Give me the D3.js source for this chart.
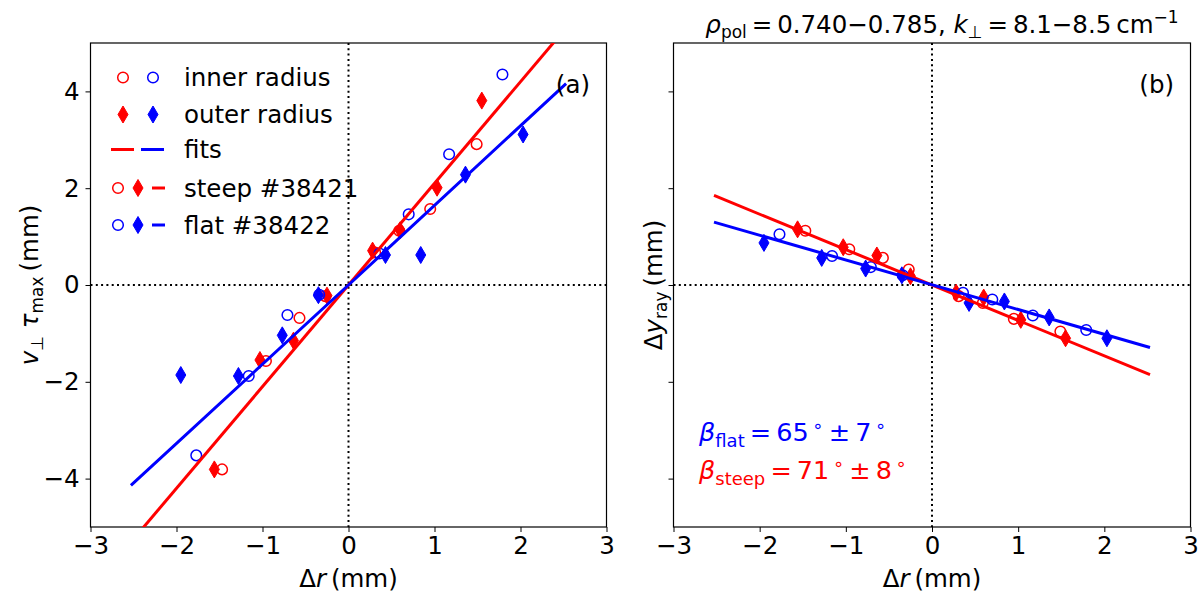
<!DOCTYPE html>
<html><head><meta charset="utf-8">
<script src="https://cdn.jsdelivr.net/npm/d3@7"></script>
<style>body{margin:0;background:#fff}svg{display:block;font-family:"DejaVu Sans",sans-serif}</style>
</head><body><svg id="c" width="1204" height="597"></svg>
<script>
// ---- data ----
const xTicks = [-3,-2,-1,0,1,2,3];
const yTicks = [-4,-2,0,2,4];
// steep #38421 (red)
const steepInnerX = [-1.47,-0.96,-0.57,-0.27,0.31,0.59,0.95,1.49];
const steepInnerA = [-3.81,-1.57,-0.68,-0.23,0.67,1.12,1.57,2.91];
const steepInnerB = [1.12,0.74,0.56,0.32,-0.23,-0.37,-0.70,-0.96];
const steepOuterX = [-1.56,-1.03,-0.64,-0.25,0.28,0.60,1.03,1.55];
const steepOuterA = [-3.81,-1.55,-1.15,-0.22,0.71,1.13,2.01,3.81];
const steepOuterB = [1.15,0.78,0.61,0.18,-0.16,-0.26,-0.72,-1.10];
// flat #38422 (blue)
const flatInnerX = [-1.77,-1.16,-0.71,-0.34,0.36,0.70,1.17,1.79];
const flatInnerA = [-3.52,-1.88,-0.62,-0.20,0.65,1.46,2.70,4.35];
const flatInnerB = [1.05,0.60,0.37,0.20,-0.16,-0.30,-0.63,-0.93];
const flatOuterX = [-1.95,-1.28,-0.77,-0.35,0.43,0.84,1.36,2.03];
const flatOuterA = [-1.86,-1.88,-1.04,-0.21,0.62,0.62,2.28,3.11];
const flatOuterB = [0.87,0.56,0.34,0.20,-0.37,-0.34,-0.67,-1.10];
// fits
const fitSteepAX = [-2.5,2.5], fitSteepAY = [-5.25,5.25];
const fitFlatAX = [-2.53,0,2.53], fitFlatAY = [-4.14,0,4.16];
const fitSteepBX = [-2.53,2.53], fitSteepBY = [1.85,-1.85];
const fitFlatBX = [-2.53,2.53], fitFlatBY = [1.30,-1.29];

const RED="#ff0000", BLUE="#0000ff";
const svg = d3.select("#c");
const FS = 24.5, SUB = 17;

function makePanel(id, x0, x1, showYLabels){
  const x = d3.scaleLinear().domain([-3,3]).range([x0,x1]);
  const y = d3.scaleLinear().domain([-5,5]).range([527,43]);
  const g = svg.append("g");
  g.append("clipPath").attr("id","clip"+id).append("rect")
    .attr("x",x0).attr("y",43).attr("width",x1-x0).attr("height",484);
  g.append("line").attr("x1",x(0)).attr("x2",x(0)).attr("y1",43).attr("y2",527)
    .attr("stroke","#000").attr("stroke-width",2).attr("stroke-dasharray","2,3.3");
  g.append("line").attr("x1",x0).attr("x2",x1).attr("y1",y(0)).attr("y2",y(0))
    .attr("stroke","#000").attr("stroke-width",2).attr("stroke-dasharray","2,3.3");
  const xa = g.append("g").attr("transform",`translate(0,527)`)
    .call(d3.axisBottom(x).tickValues(xTicks).tickSize(5).tickPadding(5).tickFormat(d=>d<0?"\u2212"+Math.abs(d):d));
  const ya = g.append("g").attr("transform",`translate(${x0},0)`)
    .call(d3.axisLeft(y).tickValues(yTicks).tickSize(5).tickPadding(6).tickFormat(d=>showYLabels?(d<0?"\u2212"+Math.abs(d):d):""));
  [xa,ya].forEach(a=>{
    a.select(".domain").remove();
    a.selectAll("line").attr("stroke","#000").attr("stroke-width",1);
    a.selectAll("text").attr("font-size",FS).attr("font-family","DejaVu Sans").attr("fill","#000");
  });
  g.append("rect").attr("x",x0).attr("y",43).attr("width",x1-x0).attr("height",484)
    .attr("fill","none").attr("stroke","#000").attr("stroke-width",1.2);
  return {x,y,g,clip:"url(#clip"+id+")"};
}

const diamond = "M0,-8.5L5,0L0,8.5L-5,0Z";
function circles(p, xs, ys, col){
  p.g.append("g").selectAll("circle").data(xs.map((v,i)=>[v,ys[i]])).join("circle")
    .attr("cx",d=>p.x(d[0])).attr("cy",d=>p.y(d[1])).attr("r",5.3)
    .attr("fill","none").attr("stroke",col).attr("stroke-width",1.5);
}
function diamonds(p, xs, ys, col){
  p.g.append("g").selectAll("path").data(xs.map((v,i)=>[v,ys[i]])).join("path")
    .attr("transform",d=>`translate(${p.x(d[0])},${p.y(d[1])})`).attr("d",diamond)
    .attr("fill",col).attr("stroke",col).attr("stroke-width",1);
}
function fit(p, xs, ys, col){
  const line = d3.line().x(d=>p.x(d[0])).y(d=>p.y(d[1]));
  p.g.append("path").attr("clip-path",p.clip).datum(xs.map((v,i)=>[v,ys[i]]))
    .attr("d",line).attr("fill","none").attr("stroke",col).attr("stroke-width",3);
}

const A = makePanel("a",90.5,606.5,true);
const B = makePanel("b",673.5,1190.5,false);

circles(A,steepInnerX,steepInnerA,RED); diamonds(A,steepOuterX,steepOuterA,RED);
circles(A,flatInnerX,flatInnerA,BLUE); diamonds(A,flatOuterX,flatOuterA,BLUE);
fit(A,fitSteepAX,fitSteepAY,RED); fit(A,fitFlatAX,fitFlatAY,BLUE);

circles(B,steepInnerX,steepInnerB,RED); diamonds(B,steepOuterX,steepOuterB,RED);
circles(B,flatInnerX,flatInnerB,BLUE); diamonds(B,flatOuterX,flatOuterB,BLUE);
fit(B,fitSteepBX,fitSteepBY,RED); fit(B,fitFlatBX,fitFlatBY,BLUE);

// panel letters
svg.append("text").attr("x",590).attr("y",93).attr("text-anchor","end").attr("font-size",FS).text("(a)");
svg.append("text").attr("x",1174).attr("y",93).attr("text-anchor","end").attr("font-size",FS).text("(b)");

// x labels
[A,B].forEach(p=>{
  const t = svg.append("text").attr("x",p.x(0)).attr("y",587).attr("text-anchor","middle").attr("font-size",FS);
  t.append("tspan").text("\u0394");
  t.append("tspan").attr("font-style","italic").text("r");
  t.append("tspan").text("\u2009(mm)");
});
// y label a
{
  const t = svg.append("text").attr("transform","translate(38,285) rotate(-90)").attr("text-anchor","middle").attr("font-size",FS);
  t.append("tspan").attr("font-style","italic").text("v");
  t.append("tspan").attr("font-size",SUB).attr("dy",5).text("\u22A5");
  t.append("tspan").attr("dy",-5).text(" ");
  t.append("tspan").attr("font-style","italic").text("\u03C4");
  t.append("tspan").attr("font-size",SUB).attr("dy",5).text("max");
  t.append("tspan").attr("dy",-5).text("\u2009(mm)");
}
// y label b
{
  const t = svg.append("text").attr("transform","translate(662,285) rotate(-90)").attr("text-anchor","middle").attr("font-size",FS);
  t.append("tspan").text("\u0394");
  t.append("tspan").attr("font-style","italic").text("y");
  t.append("tspan").attr("font-size",SUB).attr("dy",5).text("ray");
  t.append("tspan").attr("dy",-5).text("\u2009(mm)");
}
// title
{
  const t = svg.append("text").attr("x",942).attr("y",33).attr("text-anchor","middle").attr("font-size",FS);
  t.append("tspan").attr("font-style","italic").text("\u03C1");
  t.append("tspan").attr("font-size",SUB).attr("dy",5).text("pol");
  t.append("tspan").attr("dy",-5).text("\u2009=\u20090.740\u22120.785, ");
  t.append("tspan").attr("font-style","italic").text("k");
  t.append("tspan").attr("font-size",SUB).attr("dy",5).text("\u22A5");
  t.append("tspan").attr("dy",-5).text("\u2009=\u20098.1\u22128.5\u2009cm");
  t.append("tspan").attr("font-size",SUB).attr("dy",-10).text("\u22121");
}
// beta annotations
function beta(yb, sub, val, err, col){
  const t = svg.append("text").attr("x",699).attr("y",yb).attr("font-size",25.5).attr("fill",col);
  t.append("tspan").attr("font-style","italic").text("\u03B2");
  t.append("tspan").attr("font-size",18).attr("dy",6).text(sub);
  t.append("tspan").attr("dy",-6).text("\u2009=\u2009"+val);
  t.append("tspan").attr("font-size",18).attr("dy",-9).text("\u2009\u2218");
  t.append("tspan").attr("dy",9).text("\u2009\u00B1\u2009"+err);
  t.append("tspan").attr("font-size",18).attr("dy",-9).text("\u2009\u2218");
}
beta(441,"flat","65","7",BLUE);
beta(479,"steep","71","8",RED);

// legend
const lg = svg.append("g").attr("font-size",FS);
const rows = [77.5,114.5,149.5,188,225];
const labels = ["inner radius","outer radius","fits","steep #38421","flat #38422"];
labels.forEach((l,i)=>lg.append("text").attr("x",184).attr("y",rows[i]+8.5).text(l));
const circ=(cx,cy,c)=>lg.append("circle").attr("cx",cx).attr("cy",cy).attr("r",5.3).attr("fill","none").attr("stroke",c).attr("stroke-width",1.5);
const dia=(cx,cy,c)=>lg.append("path").attr("transform",`translate(${cx},${cy})`).attr("d",diamond).attr("fill",c).attr("stroke",c);
const seg=(xa,xb,cy,c)=>lg.append("line").attr("x1",xa).attr("x2",xb).attr("y1",cy).attr("y2",cy).attr("stroke",c).attr("stroke-width",3);
circ(123,rows[0],RED); circ(153,rows[0],BLUE);
dia(123,rows[1],RED); dia(153,rows[1],BLUE);
seg(111,134,rows[2],RED); seg(141,164,rows[2],BLUE);
circ(118,rows[3],RED); dia(138,rows[3],RED); seg(152,165,rows[3],RED);
circ(118,rows[4],BLUE); dia(138,rows[4],BLUE); seg(152,165,rows[4],BLUE);
</script></body></html>
